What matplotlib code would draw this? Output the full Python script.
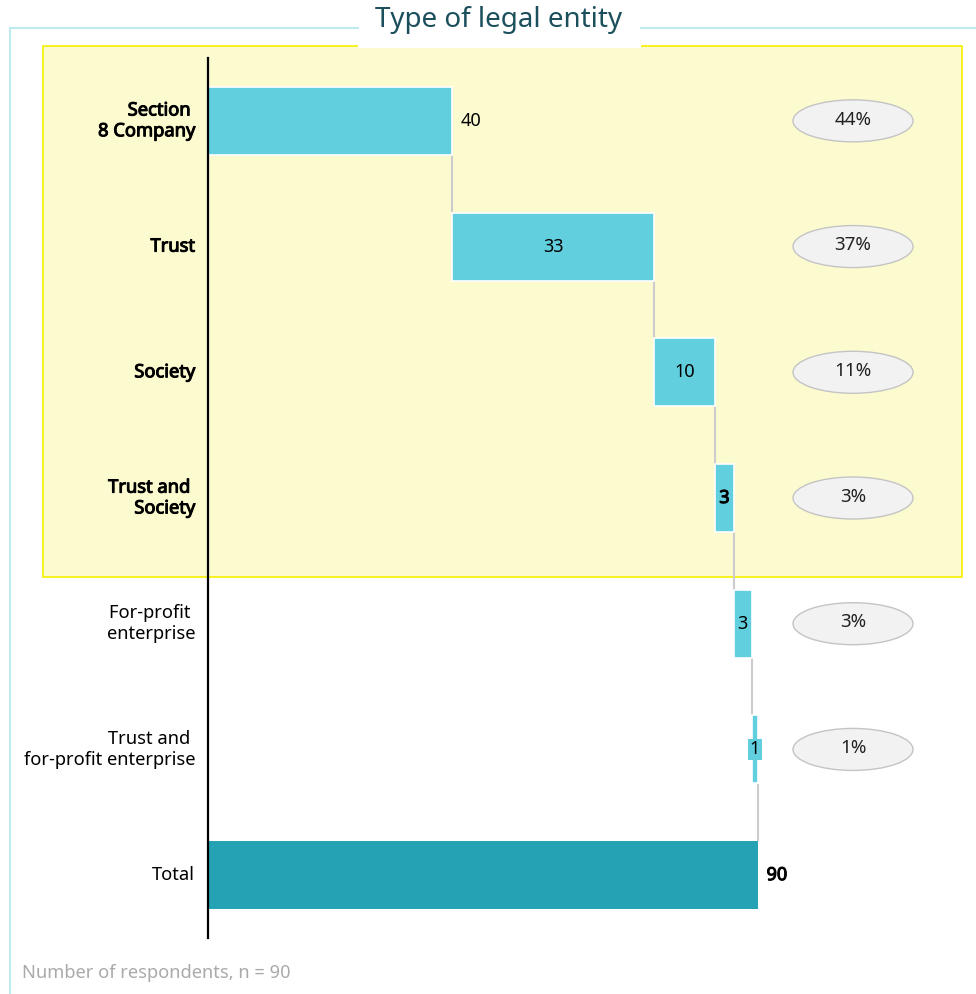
import numpy as np
import matplotlib
matplotlib.use('Agg')
from matplotlib import pyplot as plt
from matplotlib.patches import Rectangle, Ellipse
from matplotlib import patheffects as pe

plt.rcParams['font.family'] = ['Noto Sans', 'DejaVu Sans']

categories = ["Section \n8 Company", "Trust", "Society", "Trust and \nSociety",
              "For-profit \nenterprise", "Trust and \nfor-profit enterprise", "Total"]
values = [40, 33, 10, 3, 3, 1]
total = 90
percents = ["44%", "37%", "11%", "3%", "3%", "1%"]
bold_rows = [0, 1, 2, 3]

bar_col = '#62CFDF'
total_col = '#25A3B5'

# Noto Sans here has no bold face, so thicken the strokes
bold = [pe.withStroke(linewidth=0.75, foreground='black')]

W, H = 976, 994
fig = plt.figure(figsize=(W / 100, H / 100), dpi=100)

# background layer in pixel coords
bg = fig.add_axes([0, 0, 1, 1])
bg.set_xlim(0, W)
bg.set_ylim(H, 0)
bg.axis('off')
frame = '#BDEBF0'
bg.plot([10, 358], [28, 28], color=frame, lw=1.5)
bg.plot([641, W], [28, 28], color=frame, lw=1.5)
bg.plot([10, 10], [28, H], color=frame, lw=1.5)
bg.add_patch(Rectangle((43, 46), 919, 531, facecolor='#FCFBD0', edgecolor='#F5F000', lw=1.2))
bg.add_patch(Rectangle((358, 0), 283, 48, facecolor='white', edgecolor='none'))
bg.text(499, 20, "Type of legal entity", ha='center', va='center', fontsize=20, color='#1B4F5C')
bg.text(22, 973, "Number of respondents, n = 90", ha='left', va='center', fontsize=13.2, color='#AAAAAA')

# chart layer
x0, x1 = 208, W
y0, y1 = 58, 938
ax = fig.add_axes([x0 / W, 1 - y1 / H, (x1 - x0) / W, (y1 - y0) / H])
ax.patch.set_alpha(0)
scale = 550 / total
ax.set_xlim(0, (x1 - x0) / scale)
ax.set_ylim(6.5, -0.5)
for s in ['top', 'right', 'bottom']:
    ax.spines[s].set_visible(False)
ax.spines['left'].set_linewidth(1.6)
ax.set_xticks([])
ax.set_yticks([])

bh = 0.54
starts = np.concatenate([[0], np.cumsum(values)[:-1]])
ax.barh(range(len(values)), values, left=starts, height=bh, color=bar_col,
        edgecolor='white', linewidth=1.2, zorder=2)
ax.barh(6, total, left=0, height=bh, color=total_col, edgecolor='none', zorder=2)

ends = np.cumsum(values)
for i, e in enumerate(ends):
    ax.plot([e, e], [i + bh / 2 + 0.01, i + 1 - bh / 2 - 0.01], color='#CCCCCC', lw=1.5, zorder=1)

# value labels
fs = 13
ax.text(ends[0] + 1.4, 0, "40", ha='left', va='center', fontsize=fs)
for i in [1, 2]:
    ax.text(starts[i] + values[i] / 2, i, str(values[i]), ha='center', va='center', fontsize=fs)
ax.text(starts[3] + values[3] / 2, 3, "3", ha='center', va='center', fontsize=fs, path_effects=bold)
ax.text(starts[4] + values[4] / 2, 4, "3", ha='center', va='center', fontsize=fs)
ax.text(starts[5] + values[5] / 2, 5, "1", ha='center', va='center', fontsize=fs,
        bbox=dict(boxstyle='square,pad=0.1', facecolor=bar_col, edgecolor='none'))
ax.text(total + 1.4, 6, "90", ha='left', va='center', fontsize=fs, path_effects=bold)

# category labels
for i, c in enumerate(categories):
    ax.text(-2.1, i, c, ha='right', va='center', fontsize=13.2, linespacing=1.2,
            path_effects=bold if i in bold_rows else None)

# percent pills
px = (853 - x0) / scale
for i, p in enumerate(percents):
    ax.add_patch(Ellipse((px, i), 120 / scale, 42 / 125.7, facecolor='#F2F2F2',
                         edgecolor='#C4C4C4', lw=1, zorder=3))
    ax.text(px, i - 0.01, p, ha='center', va='center', fontsize=13.5, color='#222222', zorder=4)

fig.savefig('out.png', dpi=100)
